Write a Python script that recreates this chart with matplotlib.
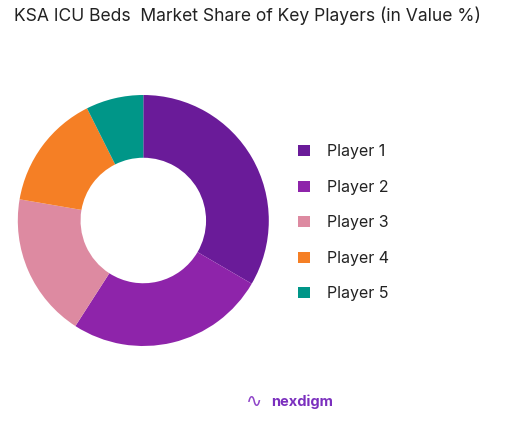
import matplotlib
matplotlib.use("Agg")
import matplotlib.pyplot as plt

players = ["Player 1", "Player 2", "Player 3", "Player 4", "Player 5"]
shares = [33.4, 25.7, 18.6, 14.9, 7.4]
colors = ["#6A1B99", "#8E24AA", "#DD8AA1", "#F57F25", "#009688"]
title = "KSA ICU Beds  Market Share of Key Players (in Value %)"

plt.rcParams['font.family'] = ['Inter', 'DejaVu Sans']

W, H = 512, 422
fig = plt.figure(figsize=(W / 100, H / 100), dpi=100)
fig.patch.set_facecolor("white")

cx, cy, r = 143.3, 220.5, 125.5
ax = fig.add_axes([(cx - r) / W, (H - cy - r) / H, 2 * r / W, 2 * r / H])
wedges, _ = ax.pie(shares, colors=colors, startangle=90, counterclock=False,
                   radius=1.0, wedgeprops=dict(width=0.5, edgecolor="none"))
ax.set_xlim(-1, 1)
ax.set_ylim(-1, 1)
ax.set_aspect("equal")
ax.axis("off")

fig.text(14 / W, 1 - 16 / H, title, fontsize=12.6, color="#222222",
         ha="left", va="center")

leg = fig.legend(wedges, players, loc="upper left",
                 bbox_to_anchor=(292 / W, 1 - 138 / H), frameon=False,
                 fontsize=11.5, handlelength=0.7, handleheight=0.7,
                 handletextpad=1.1, labelspacing=1.28, borderaxespad=0)
for t in leg.get_texts():
    t.set_color("#222222")

fig.text(302 / W, 1 - 402 / H, "nexdigm", fontsize=10.5, color="#7B2FBE",
         fontweight="bold", ha="center", va="center")
fig.text(254 / W, 1 - 402 / H, "\u223F", fontsize=14, color="#8E44C8",
         ha="center", va="center")

fig.savefig("out.png", dpi=100, facecolor="white")
